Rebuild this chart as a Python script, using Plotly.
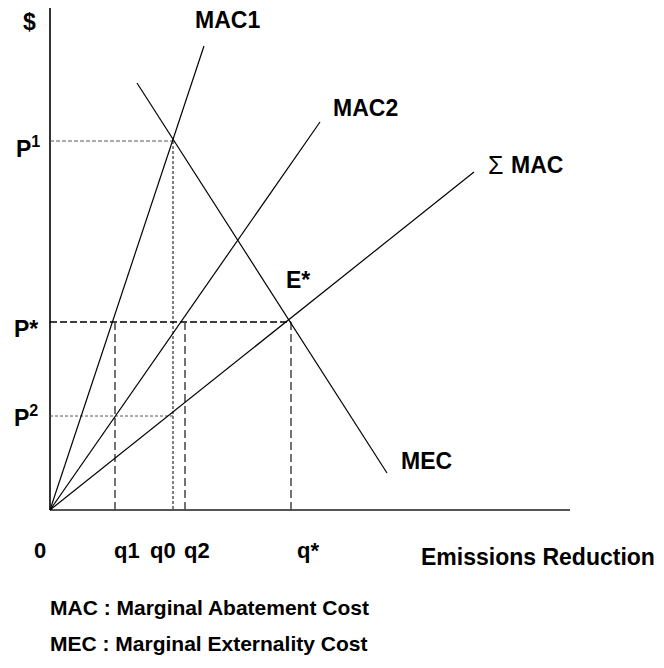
import plotly.graph_objects as go

# Curve endpoints (quantity, price) in diagram units
mac1_q = [0, 15.4]
mac1_p = [0, 46.4]
mac2_q = [0, 27.0]
mac2_p = [0, 38.8]
smac_q = [0, 42.4]
smac_p = [0, 33.8]
mec_q = [8.7, 33.7]
mec_p = [42.7, 3.7]

# Key prices and quantities
P1, Pstar, P2 = 36.9, 18.8, 9.4
q1, q0, q2, qstar = 6.5, 12.3, 13.5, 24.1

axis_x = [0, 52.0]
axis_y = [0, 50.2]

FONT = "Liberation Sans, Arial, sans-serif"

fig = go.Figure()

def line(x, y, color="black", width=1.2, dash="solid"):
    fig.add_trace(go.Scatter(x=x, y=y, mode="lines", hoverinfo="skip",
                             line=dict(color=color, width=width, dash=dash),
                             showlegend=False))

# axes
line([0, 0], axis_y, color="black", width=1.6)
line(axis_x, [0, 0], color="#555555", width=2)

# guide lines
line([0, q0], [P1, P1], color="#555555", width=1, dash="4px,2px")
line([q0, q0], [P1, 0], color="black", width=1, dash="3px,2px")
line([0, qstar], [Pstar, Pstar], color="black", width=1.5, dash="7px,3px")
line([q1, q1], [Pstar, -0.2], color="#444444", width=1.5, dash="8px,4px")
line([q2, q2], [Pstar, 0], color="#444444", width=1.5, dash="8px,4px")
line([qstar, qstar], [Pstar, -0.2], color="#444444", width=1.5, dash="8px,4px")
line([0, q0], [P2, P2], color="#555555", width=1, dash="3px,2px")

# curves
line(mac1_q, mac1_p)
line(mac2_q, mac2_p)
line(smac_q, smac_p)
line(mec_q, mec_p)

def label(x, y, text, size=23, xanchor="center", bold=True):
    fig.add_annotation(x=x, y=y, text=text, showarrow=False, xref="x", yref="y",
                       xanchor=xanchor, yanchor="middle",
                       font=dict(family=FONT, size=size, color="black",
                                 weight="bold" if bold else "normal"))

label(-2.1, 48.8, "$")
label(17.7, 49.0, "MAC1")
label(31.5, 40.2, "MAC2")
label(44.5, 34.5, "Σ", size=25, bold=False)
label(48.7, 34.5, "MAC")
label(24.8, 23.0, "E*")
label(37.6, 4.9, "MEC")
label(-2.2, 36.3, "P<sup>1</sup>")
label(-2.4, 18.1, "P*")
label(-2.4, 9.4, "P<sup>2</sup>")
label(-1.0, -4.0, "0", size=22)
label(7.7, -4.0, "q1", size=22)
label(11.3, -4.0, "q0", size=22)
label(14.7, -4.0, "q2", size=22)
label(25.8, -4.0, "q*", size=22)
label(48.8, -4.7, "Emissions Reduction", size=23)
label(-0.2, -9.7, "MAC : Marginal Abatement Cost", size=21, xanchor="left")
label(-0.2, -13.3, "MEC : Marginal Externality Cost", size=21, xanchor="left")

# page body adds an 8px margin; figure sized to fit the 664x668 window
fig.update_layout(
    width=656, height=660, autosize=False,
    margin=dict(l=0, r=0, t=0, b=0, pad=0),
    plot_bgcolor="white", paper_bgcolor="white",
    xaxis=dict(range=[-4.2, 61.4], visible=False, fixedrange=True),
    yaxis=dict(range=[-15.8, 50.2], visible=False, fixedrange=True),
)

fig.write_html("out.html")
